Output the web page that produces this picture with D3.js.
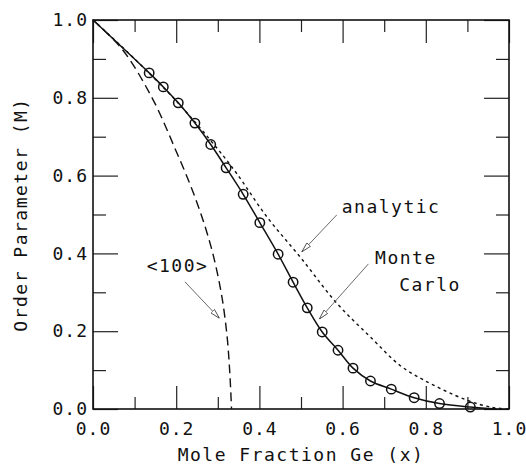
<!DOCTYPE html>
<html>
<head>
<meta charset="utf-8">
<script src="https://cdn.jsdelivr.net/npm/d3@7"></script>
<style>
  body { margin: 0; background: #fff; }
  svg { display: block; }
  text { font-family: "DejaVu Sans Mono", monospace; fill: #111; }
  .tick line { stroke: #222; stroke-width: 1.2; }
</style>
</head>
<body>
<svg id="chart" width="526" height="465"></svg>
<script>
// Monte Carlo points (x = mole fraction Ge, M = order parameter)
var mcX = [0.135, 0.169, 0.205, 0.245, 0.283, 0.320, 0.361, 0.401, 0.445, 0.481,
           0.515, 0.551, 0.589, 0.625, 0.667, 0.717, 0.772, 0.833, 0.907];
var mcM = [0.864, 0.828, 0.787, 0.735, 0.680, 0.620, 0.552, 0.479, 0.398, 0.326,
           0.260, 0.198, 0.151, 0.105, 0.072, 0.051, 0.029, 0.014, 0.005];

// analytic curve (dotted)
var anX = [0, 0.1, 0.2, 0.3, 0.345, 0.418, 0.5, 0.586, 0.666, 0.738, 0.794, 0.898, 0.96, 1.0];
var anM = [1, 0.9, 0.792, 0.668, 0.606, 0.494, 0.388, 0.272, 0.186, 0.112, 0.075, 0.023, 0.004, 0];

// <100> curve (dashed)
var hkX = [0, 0.07, 0.142, 0.197, 0.245, 0.283, 0.308, 0.322, 0.329, 0.333];
var hkM = [1, 0.925, 0.80, 0.67, 0.545, 0.42, 0.30, 0.19, 0.09, 0];

var majorTicks = [0, 0.2, 0.4, 0.6, 0.8, 1.0];
var minorTicks = [0.1, 0.3, 0.5, 0.7, 0.9];

var xTitle = 'Mole Fraction Ge (x)';
var yTitle = 'Order Parameter (M)';

// annotations: label text lines and arrows, in data units
var labels = [
  { text: 'analytic', x: 0.598, y: 0.504 },
  { text: 'Monte',    x: 0.678, y: 0.373 },
  { text: 'Carlo',    x: 0.736, y: 0.303 },
  { text: '<100>',    x: 0.129, y: 0.353 }
];
var arrows = [
  { x1: 0.586, y1: 0.499, x2: 0.502, y2: 0.404 },
  { x1: 0.662, y1: 0.373, x2: 0.544, y2: 0.231 },
  { x1: 0.221, y1: 0.327, x2: 0.304, y2: 0.233 }
];

var pLeft = 93, pRight = 509, pTop = 20, pBottom = 409;

var x = d3.scaleLinear().domain([0, 1]).range([pLeft, pRight]);
var y = d3.scaleLinear().domain([0, 1]).range([pBottom, pTop]);

var svg = d3.select('#chart');

svg.append('defs').append('marker')
    .attr('id', 'head')
    .attr('viewBox', '0 0 10 6')
    .attr('refX', 10)
    .attr('refY', 3)
    .attr('markerWidth', 10)
    .attr('markerHeight', 6)
    .attr('markerUnits', 'userSpaceOnUse')
    .attr('orient', 'auto')
  .append('path')
    .attr('d', 'M0,0.5L10,3L0,5.5Z')
    .attr('fill', '#fff')
    .attr('stroke', '#333')
    .attr('stroke-width', 0.8);

function fmt(d) { return d3.format('.1f')(d); }

function noDomain(g) { g.select('.domain').remove(); }

// major ticks, labels on bottom and left only
svg.append('g')
    .attr('transform', 'translate(0,' + pBottom + ')')
    .call(d3.axisBottom(x).tickValues(majorTicks).tickFormat(fmt).tickSize(-23).tickPadding(13))
    .call(noDomain);
svg.append('g')
    .attr('transform', 'translate(' + pLeft + ',0)')
    .call(d3.axisLeft(y).tickValues(majorTicks).tickFormat(fmt).tickSize(-25).tickPadding(5))
    .call(noDomain);
svg.append('g')
    .attr('transform', 'translate(0,' + pTop + ')')
    .call(d3.axisTop(x).tickValues(majorTicks).tickFormat('').tickSize(-23))
    .call(noDomain);
svg.append('g')
    .attr('transform', 'translate(' + pRight + ',0)')
    .call(d3.axisRight(y).tickValues(majorTicks).tickFormat('').tickSize(-25))
    .call(noDomain);

// minor ticks
svg.append('g')
    .attr('transform', 'translate(0,' + pBottom + ')')
    .call(d3.axisBottom(x).tickValues(minorTicks).tickFormat('').tickSize(-12))
    .call(noDomain);
svg.append('g')
    .attr('transform', 'translate(0,' + pTop + ')')
    .call(d3.axisTop(x).tickValues(minorTicks).tickFormat('').tickSize(-12))
    .call(noDomain);
svg.append('g')
    .attr('transform', 'translate(' + pLeft + ',0)')
    .call(d3.axisLeft(y).tickValues(minorTicks).tickFormat('').tickSize(-13))
    .call(noDomain);
svg.append('g')
    .attr('transform', 'translate(' + pRight + ',0)')
    .call(d3.axisRight(y).tickValues(minorTicks).tickFormat('').tickSize(-13))
    .call(noDomain);

svg.selectAll('.tick text')
    .attr('font-family', '"DejaVu Sans Mono", monospace')
    .attr('font-size', 18)
    .style('letter-spacing', '1px')
    .attr('fill', '#111');

// frame
svg.append('rect')
    .attr('x', pLeft).attr('y', pTop)
    .attr('width', pRight - pLeft).attr('height', pBottom - pTop)
    .attr('fill', 'none')
    .attr('stroke', '#111')
    .attr('stroke-width', 1.6);

// curves
var line = d3.line()
    .x(function (d) { return x(d[0]); })
    .y(function (d) { return y(d[1]); })
    .curve(d3.curveCatmullRom.alpha(0.5));

var anData = d3.zip(anX, anM);
var hkData = d3.zip(hkX, hkM);
var mcData = [[0, 1]].concat(d3.zip(mcX, mcM), [[0.97, 0]]);

svg.append('path')
    .attr('d', line(anData))
    .attr('fill', 'none')
    .attr('stroke', '#111')
    .attr('stroke-width', 1.4)
    .attr('stroke-dasharray', '3,3.5');

svg.append('path')
    .attr('d', line(hkData))
    .attr('fill', 'none')
    .attr('stroke', '#111')
    .attr('stroke-width', 1.4)
    .attr('stroke-dasharray', '9,5');

svg.append('path')
    .attr('d', line(mcData))
    .attr('fill', 'none')
    .attr('stroke', '#111')
    .attr('stroke-width', 1.5);

svg.selectAll('circle.mc')
    .data(d3.zip(mcX, mcM))
  .enter().append('circle')
    .attr('class', 'mc')
    .attr('cx', function (d) { return x(d[0]); })
    .attr('cy', function (d) { return y(d[1]); })
    .attr('r', 4.7)
    .attr('fill', 'none')
    .attr('stroke', '#111')
    .attr('stroke-width', 1.5);

// annotations
svg.selectAll('line.arrow')
    .data(arrows)
  .enter().append('line')
    .attr('class', 'arrow')
    .attr('x1', function (d) { return x(d.x1); })
    .attr('y1', function (d) { return y(d.y1); })
    .attr('x2', function (d) { return x(d.x2); })
    .attr('y2', function (d) { return y(d.y2); })
    .attr('stroke', '#444')
    .attr('stroke-width', 0.8)
    .attr('marker-end', 'url(#head)');

svg.selectAll('text.label')
    .data(labels)
  .enter().append('text')
    .attr('class', 'label')
    .attr('x', function (d) { return x(d.x); })
    .attr('y', function (d) { return y(d.y); })
    .attr('font-size', 18)
    .style('letter-spacing', '1.5px')
    .text(function (d) { return d.text; });

// axis titles
svg.append('text')
    .attr('x', (pLeft + pRight) / 2)
    .attr('y', 461)
    .attr('text-anchor', 'middle')
    .attr('font-size', 18)
    .style('letter-spacing', '1.5px')
    .text(xTitle);

svg.append('text')
    .attr('transform', 'translate(27,' + (pTop + pBottom) / 2 + ') rotate(-90)')
    .attr('text-anchor', 'middle')
    .attr('font-size', 18)
    .style('letter-spacing', '1.5px')
    .text(yTitle);
</script>
</body>
</html>
